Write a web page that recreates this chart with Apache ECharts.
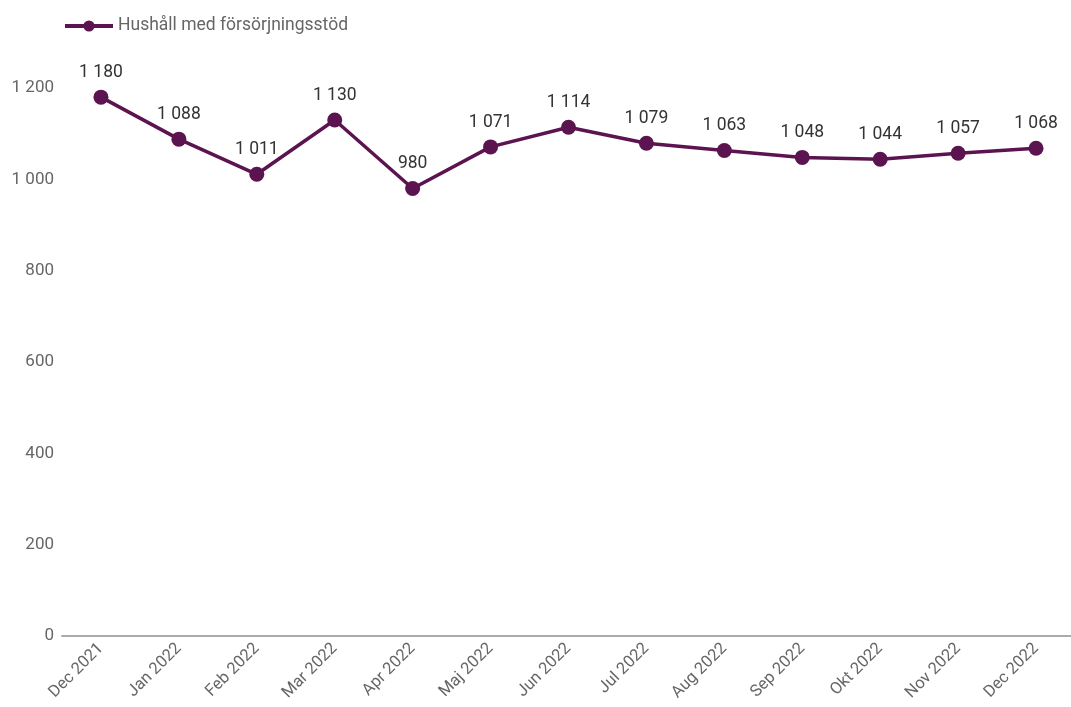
<!DOCTYPE html>
<html>
<head>
<meta charset="utf-8">
<script src="https://cdn.jsdelivr.net/npm/echarts@6/dist/echarts.min.js"></script>
<style>
  html, body { margin: 0; padding: 0; background: #fff; }
  #chart { width: 1071px; height: 707px; }
</style>
</head>
<body>
<div id="chart"></div>
<script>
// kategorier och värden
const months = ['Dec 2021', 'Jan 2022', 'Feb 2022', 'Mar 2022', 'Apr 2022', 'Maj 2022', 'Jun 2022',
  'Jul 2022', 'Aug 2022', 'Sep 2022', 'Okt 2022', 'Nov 2022', 'Dec 2022'];
const hushall = [1180, 1088, 1011, 1130, 980, 1071, 1114, 1079, 1063, 1048, 1044, 1057, 1068];
const seriesName = 'Hushåll med försörjningsstöd';

// tusentalsavgränsare med mellanslag
const fmt = v => String(v).replace(/\B(?=(\d{3})+(?!\d))/g, ' ');

const chart = echarts.init(document.getElementById('chart'));
chart.setOption({
  textStyle: { fontFamily: 'Roboto' },
  legend: {
    left: 58,
    top: 12,
    itemWidth: 48,
    itemHeight: 14,
    itemGap: 8,
    lineStyle: { width: 4 },
    textStyle: { color: '#666', fontSize: 17.5 },
    data: [seriesName]
  },
  grid: { left: 62, width: 1013, top: 88, bottom: 71, outerBoundsMode: 'none' },
  xAxis: {
    type: 'category',
    data: months,
    boundaryGap: true,
    axisLine: { lineStyle: { color: '#aaa', width: 2 } },
    axisTick: { show: false },
    axisLabel: { rotate: 45, color: '#666', fontSize: 16.5, margin: 10 }
  },
  yAxis: {
    type: 'value',
    min: 0,
    max: 1200,
    interval: 200,
    splitLine: { show: false },
    axisLine: { show: false },
    axisTick: { show: false },
    axisLabel: { color: '#666', fontSize: 17, margin: 8, formatter: fmt }
  },
  series: [{
    name: seriesName,
    type: 'line',
    data: hushall,
    symbol: 'circle',
    symbolSize: 15,
    color: '#5c1450',
    lineStyle: { width: 3.5, color: '#5c1450' },
    label: {
      show: true,
      position: 'top',
      distance: 8,
      color: '#333',
      fontSize: 17.5,
      formatter: p => fmt(p.value)
    }
  }]
});
</script>
</body>
</html>
